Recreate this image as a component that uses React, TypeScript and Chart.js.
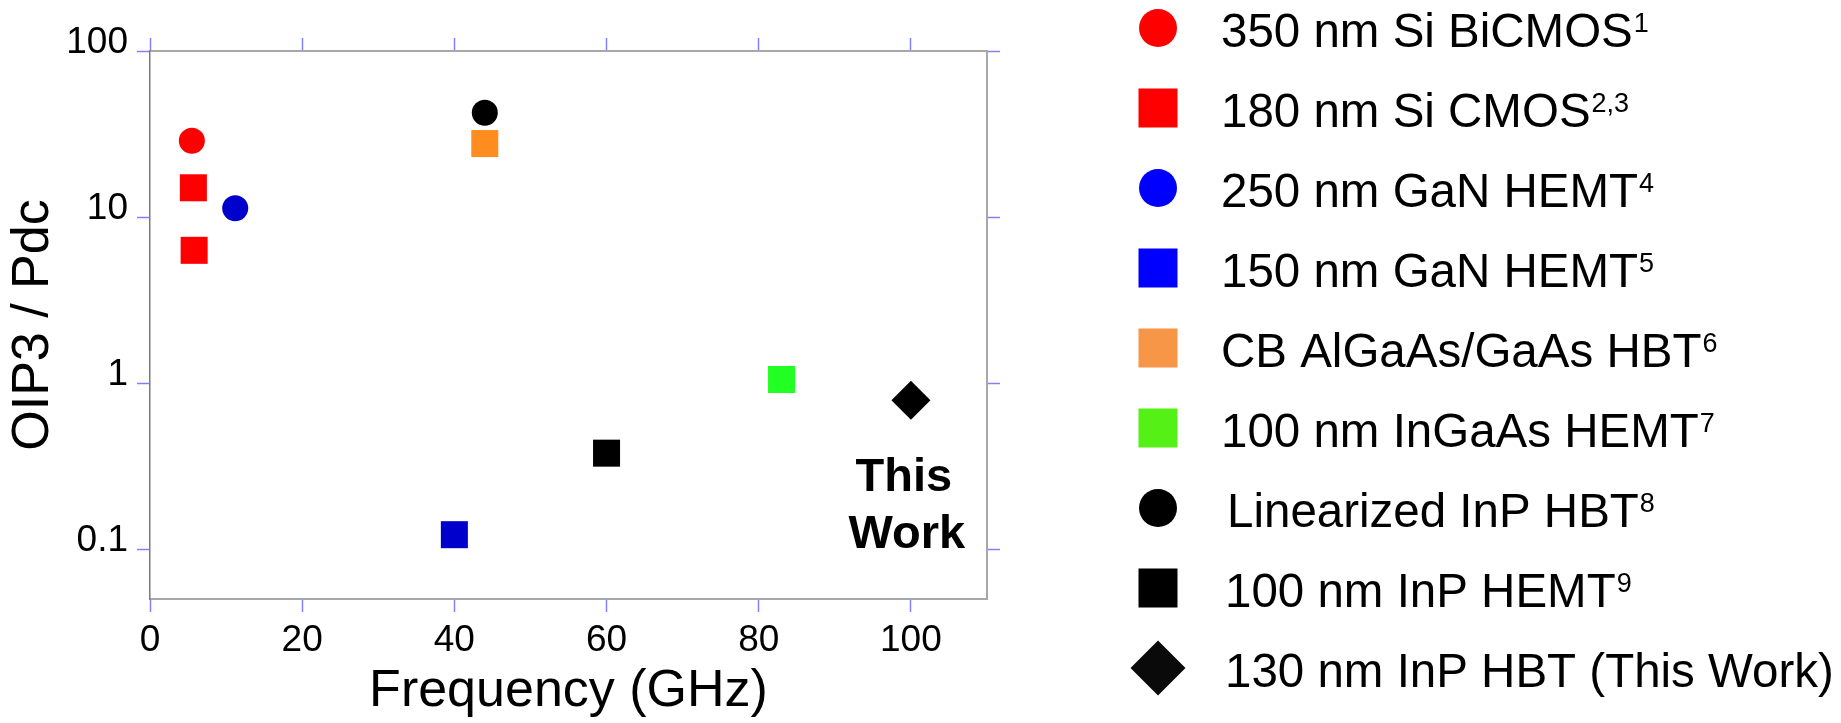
import React, { useEffect, useRef } from "react";
import { Chart, registerables } from "chart.js";

Chart.register(...registerables);

// ---- Data ----
const seriesNames = [
  "350 nm Si BiCMOS",
  "180 nm Si CMOS",
  "250 nm GaN HEMT",
  "150 nm GaN HEMT",
  "CB AlGaAs/GaAs HBT",
  "100 nm InGaAs HEMT",
  "Linearized InP HBT",
  "100 nm InP HEMT",
  "130 nm InP HBT (This Work)",
];
const seriesRefs = ["1", "2,3", "4", "5", "6", "7", "8", "9", ""];

const siBiCMOS350 = [{ x: 5.5, y: 28.8 }];
const siCMOS180 = [
  { x: 5.7, y: 15.0 },
  { x: 5.8, y: 6.3 },
];
const ganHEMT250 = [{ x: 11.2, y: 11.3 }];
const ganHEMT150 = [{ x: 40, y: 0.122 }];
const algaasHBT = [{ x: 44, y: 27.7 }];
const ingaasHEMT100 = [{ x: 83, y: 1.05 }];
const linInPHBT = [{ x: 44, y: 42.5 }];
const inpHEMT100 = [{ x: 60, y: 0.378 }];
const inpHBT130 = [{ x: 100, y: 0.787 }];

const xTicks = [0, 20, 40, 60, 80, 100];
const yTicks = [0.1, 1, 10, 100];
const yTickLabels = ["0.1", "1", "10", "100"];

const FONT = "'Liberation Sans', Arial, sans-serif";

// ---- styles ----
const plotColors = ["#ff0000", "#ff0000", "#0000cc", "#0000cc", "#ff8c1e", "#22ff22", "#000000", "#000000", "#000000"];
const legendColors = ["#ff0000", "#ff0000", "#0000ff", "#0000ff", "#f79646", "#55f015", "#000000", "#000000", "#0a0a0a"];
const styles = ["circle", "rect", "circle", "rect", "rect", "rect", "circle", "rect", "rectRot"];
const plotRadius = [13, 19.1, 13, 19.1, 19.1, 19.1, 13, 19.1, 19.5];
const seriesData = [siBiCMOS350, siCMOS180, ganHEMT250, ganHEMT150, algaasHBT, ingaasHEMT100, linInPHBT, inpHEMT100, inpHBT130];

const legendLayout = {
  markerX: 1158,
  firstY: 28,
  step: 80,
  textX: [1221, 1221, 1221, 1221, 1221, 1221, 1227, 1225, 1225],
  fontSize: 47.5,
  supSize: 27,
};

function drawMarker(ctx: CanvasRenderingContext2D, style: string, x: number, y: number, color: string) {
  ctx.save();
  ctx.fillStyle = color;
  ctx.beginPath();
  if (style === "circle") {
    ctx.arc(x, y, 19, 0, Math.PI * 2);
  } else if (style === "rect") {
    ctx.rect(x - 19.5, y - 19.5, 39, 39);
  } else {
    const r = 27.5;
    ctx.moveTo(x - r, y);
    ctx.lineTo(x, y - r);
    ctx.lineTo(x + r, y);
    ctx.lineTo(x, y + r);
    ctx.closePath();
  }
  ctx.fill();
  ctx.restore();
}

const legendPlugin = {
  id: "customLegend",
  afterDraw(chart: any) {
    const ctx: CanvasRenderingContext2D = chart.ctx;
    ctx.save();
    seriesNames.forEach((name, i) => {
      const cy = legendLayout.firstY + legendLayout.step * i;
      drawMarker(ctx, styles[i], legendLayout.markerX, cy, legendColors[i]);
      ctx.fillStyle = "#000";
      ctx.textBaseline = "alphabetic";
      ctx.textAlign = "left";
      ctx.font = `${legendLayout.fontSize}px ${FONT}`;
      const tx = legendLayout.textX[i];
      const base = cy + 19;
      ctx.fillText(name, tx, base);
      const w = ctx.measureText(name).width;
      if (seriesRefs[i]) {
        ctx.font = `${legendLayout.supSize}px ${FONT}`;
        ctx.fillText(seriesRefs[i], tx + w + 1, base - 15);
      }
    });
    ctx.restore();
  },
};

const annotationPlugin = {
  id: "thisWork",
  afterDatasetsDraw(chart: any) {
    const ctx: CanvasRenderingContext2D = chart.ctx;
    const px = chart.scales.x.getPixelForValue(inpHBT130[0].x);
    const py = chart.scales.y.getPixelForValue(inpHBT130[0].y);
    ctx.save();
    ctx.fillStyle = "#000";
    ctx.font = `bold 47px ${FONT}`;
    ctx.textAlign = "center";
    ctx.textBaseline = "alphabetic";
    ctx.fillText("This", px - 7, py + 91);
    ctx.fillText("Work", px - 4, py + 148);
    ctx.restore();
  },
};

export default function App() {
  const canvasRef = useRef<HTMLCanvasElement | null>(null);

  useEffect(() => {
    document.body.style.margin = "0";
    const canvas = canvasRef.current;
    if (!canvas) return;
    Chart.defaults.font.family = FONT;
    Chart.defaults.color = "#000";

    const tickColor = "#8080ff";
    const axisGray = "#a8a8a8";

    const chart = new Chart(canvas, {
      type: "scatter",
      data: {
        datasets: seriesNames.map((name, i) => ({
          label: name,
          data: seriesData[i],
          pointStyle: styles[i] as any,
          pointRadius: plotRadius[i],
          pointHoverRadius: plotRadius[i],
          pointBackgroundColor: plotColors[i],
          pointBorderColor: plotColors[i],
          pointBorderWidth: 0,
          backgroundColor: plotColors[i],
          borderColor: plotColors[i],
          showLine: false,
        })),
      },
      options: {
        animation: false,
        responsive: true,
        maintainAspectRatio: false,
        events: [],
        layout: { padding: 0 },
        plugins: {
          legend: { display: false },
          tooltip: { enabled: false },
        },
        scales: {
          x: {
            type: "linear",
            position: "bottom",
            min: 0,
            max: 110,
            afterBuildTicks: (s: any) => {
              s.ticks = xTicks.map((v) => ({ value: v }));
            },
            afterFit: (s: any) => {
              s.height = 124;
            },
            grid: {
              drawOnChartArea: false,
              drawTicks: true,
              tickLength: 13,
              tickColor: tickColor,
              tickWidth: 1.5,
            },
            border: { display: true, color: axisGray, width: 2 },
            ticks: {
              font: { size: 37, family: FONT },
              color: "#000",
              padding: 7,
              maxRotation: 0,
              autoSkip: false,
            },
            title: {
              display: true,
              text: "Frequency (GHz)",
              font: { size: 52, family: FONT },
              color: "#000",
              padding: { top: 0, bottom: 0 },
            },
          },
          x2: {
            type: "linear",
            position: "top",
            min: 0,
            max: 110,
            afterBuildTicks: (s: any) => {
              s.ticks = xTicks.map((v) => ({ value: v }));
            },
            afterFit: (s: any) => {
              s.height = 51;
            },
            grid: {
              drawOnChartArea: false,
              drawTicks: true,
              tickLength: 13,
              tickColor: tickColor,
              tickWidth: 1.5,
            },
            border: { display: true, color: axisGray, width: 2 },
            ticks: { display: false },
          },
          y: {
            type: "logarithmic",
            position: "left",
            min: 0.05,
            max: 100,
            afterBuildTicks: (s: any) => {
              s.ticks = yTicks.map((v) => ({ value: v }));
            },
            afterFit: (s: any) => {
              s.width = 150;
            },
            grid: {
              drawOnChartArea: false,
              drawTicks: true,
              tickLength: 13,
              tickColor: tickColor,
              tickWidth: 1.5,
            },
            border: { display: true, color: "#7a7a7a", width: 1.5 },
            ticks: {
              font: { size: 37, family: FONT },
              color: "#000",
              padding: 9,
              labelOffset: -8,
              autoSkip: false,
              callback: (_v: any, idx: number) => yTickLabels[idx],
            },
            title: {
              display: true,
              text: "OIP3 / Pdc",
              font: { size: 52, family: FONT },
              color: "#000",
              padding: { top: 2, bottom: 0 },
            },
          },
          y2: {
            type: "logarithmic",
            position: "right",
            min: 0.05,
            max: 100,
            afterBuildTicks: (s: any) => {
              s.ticks = yTicks.map((v) => ({ value: v }));
            },
            afterFit: (s: any) => {
              s.width = 854;
            },
            grid: {
              drawOnChartArea: false,
              drawTicks: true,
              tickLength: 13,
              tickColor: tickColor,
              tickWidth: 1.5,
            },
            border: { display: true, color: axisGray, width: 2 },
            ticks: { display: false },
          },
        },
      } as any,
      plugins: [annotationPlugin, legendPlugin],
    });

    return () => {
      chart.destroy();
    };
  }, []);

  return (
    <div style={{ position: "relative", width: "1841px", height: "723px" }}>
      <canvas ref={canvasRef} />
    </div>
  );
}
